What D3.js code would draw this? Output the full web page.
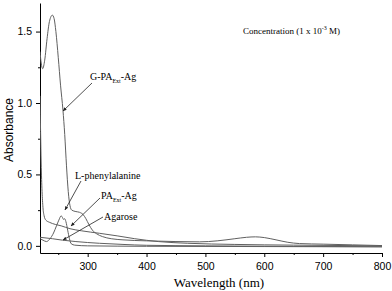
<!DOCTYPE html>
<html>
<head>
<meta charset="utf-8">
<script src="https://cdn.jsdelivr.net/npm/d3@7"></script>
<style>
  body { margin: 0; background: #fff; }
  .tick text { font-family: "Liberation Sans", Arial, sans-serif; font-size: 10.5px; }
</style>
</head>
<body>
<div id="chart"></div>
<script>
// absorbance spectra, [wavelength nm, absorbance]
const gpaAg = [[219,1.36],[221,1.28],[223.5,1.24],[227,1.30],[231,1.45],[235,1.57],[240,1.615],[243,1.59],[246,1.50],[250,1.32],[254,1.12],[258,0.95],[261,0.78],[264,0.56],[267,0.38],[270,0.28],[273,0.25],[280,0.24],[286,0.235],[292,0.22],[297,0.19],[302,0.15],[308,0.11],[315,0.085],[325,0.065],[340,0.05],[360,0.042],[400,0.035],[450,0.03],[490,0.028],[520,0.035],[550,0.05],[570,0.06],[585,0.063],[600,0.058],[620,0.042],[640,0.025],[660,0.016],[700,0.012],[750,0.007],[800,0.002]];
const lPhe = [[219,0.05],[224,0.04],[230,0.03],[236,0.05],[242,0.09],[247,0.14],[251,0.18],[255,0.21],[257,0.2],[259,0.185],[261,0.19],[263,0.17],[266,0.11],[269,0.05],[272,0.015],[278,0.005],[300,0],[400,-0.003],[600,-0.005],[800,-0.007]];
const paAg = [[219,1.05],[220,0.8],[221,0.58],[222.5,0.38],[224,0.27],[226,0.21],[229,0.18],[235,0.165],[245,0.15],[255,0.14],[270,0.12],[290,0.105],[320,0.088],[350,0.07],[380,0.05],[420,0.03],[470,0.018],[550,0.01],[650,0.005],[800,0]];
const agarose = [[219,0.06],[240,0.05],[257,0.04],[280,0.03],[320,0.018],[360,0.01],[400,0.004],[500,0],[650,-0.004],[800,-0.006]];

const xTicks = [300, 400, 500, 600, 700, 800];
const xMinor = [250, 350, 450, 550, 650, 750];
const yTicks = [0, 0.5, 1.0, 1.5];
const yMinor = [0.25, 0.75, 1.25];

const width = 392, height = 291;
const m = {left: 40, right: 382, top: 3, bottom: 253};

const svg = d3.select('#chart').append('svg')
  .attr('width', width).attr('height', height);

const x = d3.scaleLinear().domain([219, 800]).range([m.left, m.right]);
const y = d3.scaleLinear().domain([-0.05, 1.70]).range([m.bottom, m.top]);

const defs = svg.append('defs');
defs.append('clipPath').attr('id', 'plot')
  .append('rect').attr('x', m.left).attr('y', m.top).attr('width', m.right - m.left).attr('height', m.bottom - m.top);
defs.append('marker')
  .attr('id', 'arr').attr('viewBox', '0 0 10 10').attr('refX', 9).attr('refY', 5)
  .attr('markerWidth', 5).attr('markerHeight', 5).attr('orient', 'auto')
  .append('path').attr('d', 'M0,1L10,5L0,9Z').attr('fill', '#222');

// minor ticks first, majors drawn over them
svg.append('g').attr('transform', `translate(0,${m.bottom})`)
  .call(d3.axisBottom(x).tickValues(xMinor).tickSize(2).tickFormat(''))
  .call(g => g.select('.domain').remove());
svg.append('g').attr('transform', `translate(${m.left},0)`)
  .call(d3.axisLeft(y).tickValues(yMinor).tickSize(2).tickFormat(''))
  .call(g => g.select('.domain').remove());

svg.append('g').attr('transform', `translate(0,${m.bottom})`)
  .call(d3.axisBottom(x).tickValues(xTicks).tickSize(4).tickSizeOuter(0).tickPadding(6));
svg.append('g').attr('transform', `translate(${m.left},0)`)
  .call(d3.axisLeft(y).tickValues(yTicks).tickSize(4).tickSizeOuter(0).tickPadding(4).tickFormat(d3.format('.1f')));

const line = d3.line().x(d => x(d[0])).y(d => y(d[1])).curve(d3.curveMonotoneX);

const plot = svg.append('g').attr('clip-path', 'url(#plot)');
[agarose, lPhe, paAg, gpaAg].forEach(s => {
  plot.append('path').datum(s)
    .attr('d', line)
    .attr('fill', 'none')
    .attr('stroke', '#606060')
    .attr('stroke-width', 1);
});

// axis titles
svg.append('text')
  .attr('transform', `translate(13,130) rotate(-90)`)
  .attr('text-anchor', 'middle')
  .style('font-family', '"Liberation Sans", Arial, sans-serif')
  .style('font-size', '12px')
  .text('Absorbance');

const serif = '"Liberation Serif", "Times New Roman", serif';

svg.append('text')
  .attr('x', 219).attr('y', 287)
  .attr('text-anchor', 'middle')
  .style('font-family', serif)
  .style('font-size', '13px')
  .text('Wavelength (nm)');

// annotations
const conc = svg.append('text').attr('x', 243).attr('y', 34)
  .style('font-family', serif).style('font-size', '9px');
conc.append('tspan').text('Concentration (1 x 10');
conc.append('tspan').attr('dy', -4).style('font-size', '6px').text('-3');
conc.append('tspan').attr('dy', 4).text(' M)');

const labels = [
  {pre: 'G-PA', sub: 'Ext', post: '-Ag', x: 90, y: 80, from: [92, 83], to: [63, 111]},
  {pre: 'L-phenylalanine', sub: '', post: '', x: 75, y: 179, from: [81, 181], to: [65, 210]},
  {pre: 'PA', sub: 'Ext', post: '-Ag', x: 101, y: 199, from: [100, 198], to: [71, 226]},
  {pre: 'Agarose', sub: '', post: '', x: 104, y: 220, from: [103, 217], to: [63, 240]}
];

labels.forEach(l => {
  const t = svg.append('text').attr('x', l.x).attr('y', l.y)
    .style('font-family', serif).style('font-size', '10px');
  t.append('tspan').text(l.pre);
  if (l.sub) {
    t.append('tspan').attr('dy', 3).style('font-size', '6px').text(l.sub);
    t.append('tspan').attr('dy', -3).text(l.post);
  }
  svg.append('line')
    .attr('x1', l.from[0]).attr('y1', l.from[1])
    .attr('x2', l.to[0]).attr('y2', l.to[1])
    .attr('stroke', '#222').attr('stroke-width', 0.8)
    .attr('marker-end', 'url(#arr)');
});
</script>
</body>
</html>
